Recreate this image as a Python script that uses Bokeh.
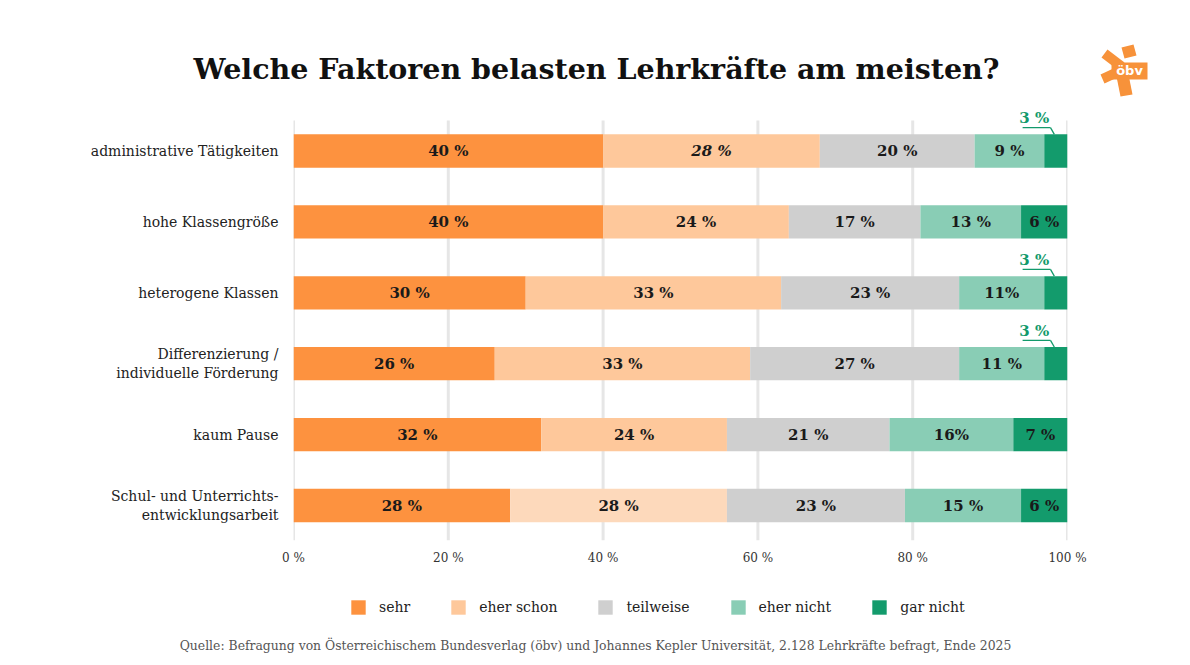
from bokeh.plotting import figure
from bokeh.layouts import column
from bokeh.models import ColumnDataSource, Range1d, FixedTicker
from bokeh.embed import file_html
from bokeh.resources import INLINE
from bokeh.core.properties import value

# Survey data: share of teachers per answer, one row per factor (top to bottom)
categories = [
    "administrative Tätigkeiten",
    "hohe Klassengröße",
    "heterogene Klassen",
    "Differenzierung /\nindividuelle Förderung",
    "kaum Pause",
    "Schul- und Unterrichts-\nentwicklungsarbeit",
]
answers = ["sehr", "eher schon", "teilweise", "eher nicht", "gar nicht"]
sehr = [40, 40, 30, 26, 32, 28]
eher_schon = [28, 24, 33, 33, 24, 28]
teilweise = [20, 17, 23, 27, 21, 23]
eher_nicht = [9, 13, 11, 11, 16, 15]
gar_nicht = [3, 6, 3, 3, 7, 6]
x_ticks = [0, 20, 40, 60, 80, 100]

title_text = "Welche Faktoren belasten Lehrkräfte am meisten?"
source_text = ("Quelle: Befragung von Österreichischem Bundesverlag (öbv) und "
               "Johannes Kepler Universität, 2.128 Lehrkräfte befragt, Ende 2025")

series = [sehr, eher_schon, teilweise, eher_nicht, gar_nicht]
colors = ["#fd923f", "#fec89b", "#cfcfcf", "#89cdb5", "#139b6c"]
# cells printed without a space before the percent sign
tight_cells = {(2, 3), (4, 3)}
# cell printed in italics
italic_cells = {(0, 1)}
# cell with a lighter fill
light_cells = {(5, 1): "#fdd9bb"}

W = 1190
HEAD_H, MAIN_H, FOOT_H = 100, 475, 90
FL, FR = 293, 1067            # frame edges on the canvas (x)
PX_ROW = 70.9                 # pixels between bar rows
BAR_H = 0.47
OUT_SMALL = 5                 # segments narrower than this get their label above the bar
GRID_TOP = -30.5 / PX_ROW     # gridlines start a little above the first bar
Y_BOTTOM = 5 + 35 / PX_ROW

serif = "DejaVu Serif"
green = "#139a6b"


def blank_figure(height):
    f = figure(width=W, height=height, output_backend="svg", toolbar_location=None,
               x_range=Range1d(0, W), y_range=Range1d(height, 0),
               x_axis_type=None, y_axis_type=None, min_border=0,
               background_fill_color="white", border_fill_color="white")
    f.outline_line_color = None
    f.frame_align = False
    return f


# ---------- header: title and publisher mark ----------
head = blank_figure(HEAD_H)
head.text(x=[596], y=[68], text=[title_text], text_align="center", text_baseline="middle",
          text_font=value(serif), text_font_size="28.5px", text_font_style="bold",
          text_color="#111111")
logo_orange = "#f7923a"
logo_parts = [
    [(1121, 47), (1133, 44), (1136, 55), (1124, 58)],
    [(1101, 57), (1107, 49), (1124, 62), (1118, 70)],
    [(1100, 74), (1115, 67), (1119, 76), (1104, 83)],
    [(1116, 76), (1128, 74), (1132, 94), (1120, 96)],
    [(1111, 62), (1147, 62), (1147, 79), (1111, 79)],
]
head.patches(xs=[[a for a, _ in part] for part in logo_parts],
             ys=[[b for _, b in part] for part in logo_parts],
             fill_color=logo_orange, line_color=None)
head.text(x=[1129], y=[70], text=["öbv"], text_align="center", text_baseline="middle",
          text_font=value("DejaVu Sans"), text_font_size="13px", text_font_style="bold",
          text_color="white")

# ---------- main chart ----------
p = figure(width=W, height=MAIN_H, output_backend="svg", toolbar_location=None,
           x_range=Range1d(0, 100), y_range=Range1d(Y_BOTTOM, -42.5 / PX_ROW),
           min_border_left=FL, min_border_right=W - FR,
           min_border_top=8, min_border_bottom=35,
           background_fill_color="white", border_fill_color="white")
p.outline_line_color = None
p.frame_align = False
p.xgrid.grid_line_color = None
p.ygrid.grid_line_color = None

# vertical gridlines at the tick positions
p.segment(x0=x_ticks, y0=[GRID_TOP] * len(x_ticks), x1=x_ticks, y1=[Y_BOTTOM] * len(x_ticks),
          line_color="#e6e6e6", line_width=3)

ys = list(range(len(categories)))
in_x, in_y, in_t, in_style = [], [], [], []
out_x, out_y, out_t = [], [], []
lead_x0, lead_x1, lead_x2, lead_y0, lead_y1 = [], [], [], [], []

left = [0] * len(categories)
for si, (vals, col) in enumerate(zip(series, colors)):
    right = [l + v for l, v in zip(left, vals)]
    fills = [light_cells.get((ri, si), col) for ri in ys]
    src = ColumnDataSource(dict(y=ys, left=left, right=right, fill=fills))
    p.hbar(y="y", left="left", right="right", height=BAR_H, source=src,
           fill_color="fill", line_color=None)
    for ri, (l, v) in enumerate(zip(left, vals)):
        sep = "" if (ri, si) in tight_cells else " "
        txt = f"{v}{sep}%"
        if v < OUT_SMALL:
            out_x.append(l - 1.3)
            out_y.append(ri - 0.46)
            out_t.append(txt)
            lead_x0.append(l - 2.8)
            lead_x1.append(l + 0.8)
            lead_x2.append(l + 1.3)
            lead_y0.append(ri - 0.33)
            lead_y1.append(ri - BAR_H / 2)
        else:
            in_x.append(l + v / 2)
            in_y.append(ri)
            in_t.append(txt)
            in_style.append("bold italic" if (ri, si) in italic_cells else "bold")
    left = right

# value labels inside the segments
p.text(x=in_x, y=in_y, text=in_t, text_align="center", text_baseline="middle",
       text_font=value(serif), text_font_size="15px", text_font_style=in_style,
       text_color="#1a1a1a")

# small values: label above the bar with a leader line
p.segment(x0=lead_x0, y0=lead_y0, x1=lead_x1, y1=lead_y0, line_color=green, line_width=1.3)
p.segment(x0=lead_x1, y0=lead_y0, x1=lead_x2, y1=lead_y1, line_color=green, line_width=1.3)
p.text(x=out_x, y=out_y, text=out_t, text_align="center", text_baseline="middle",
       text_font=value(serif), text_font_size="15px", text_font_style="bold",
       text_color=green)

# axes
p.xaxis.ticker = FixedTicker(ticks=x_ticks)
p.xaxis.major_label_overrides = {t: f"{t} %" for t in x_ticks}
p.xaxis.axis_line_color = None
p.xaxis.major_tick_line_color = None
p.xaxis.minor_tick_line_color = None
p.xaxis.major_tick_out = 0
p.xaxis.major_label_standoff = 10
p.xaxis.major_label_text_font = serif
p.xaxis.major_label_text_font_size = "12px"
p.xaxis.major_label_text_color = "#333333"

p.yaxis.ticker = FixedTicker(ticks=ys)
p.yaxis.major_label_overrides = {i: c for i, c in enumerate(categories)}
p.yaxis.axis_line_color = None
p.yaxis.major_tick_line_color = None
p.yaxis.minor_tick_line_color = None
p.yaxis.major_tick_out = 0
p.yaxis.major_label_standoff = 15
p.yaxis.major_label_text_font = serif
p.yaxis.major_label_text_font_size = "14px"
p.yaxis.major_label_text_color = "#222222"

# ---------- footer: legend and source ----------
foot = blank_figure(FOOT_H)
# legend-only renderers, placed outside the visible range
for name, col in zip(answers, colors):
    foot.rect(x=[-100], y=[-100], width=1, height=1, fill_color=col, line_color=None,
              legend_label=name)
leg = foot.legend[0]
leg.orientation = "horizontal"
leg.location = (349, 49)
leg.padding = 0
leg.margin = 0
leg.spacing = 39
leg.glyph_width = 18
leg.glyph_height = 18
leg.label_height = 18
leg.label_standoff = 12
leg.label_text_font = serif
leg.label_text_font_size = "14px"
leg.label_text_color = "#222222"
leg.border_line_color = None
leg.background_fill_alpha = 0

foot.text(x=[595], y=[70], text=[source_text], text_align="center", text_baseline="middle",
          text_font=value(serif), text_font_size="12.4px", text_color="#555555")

layout = column(head, p, foot, spacing=0)
open("out.html", "w").write(file_html(layout, INLINE))
